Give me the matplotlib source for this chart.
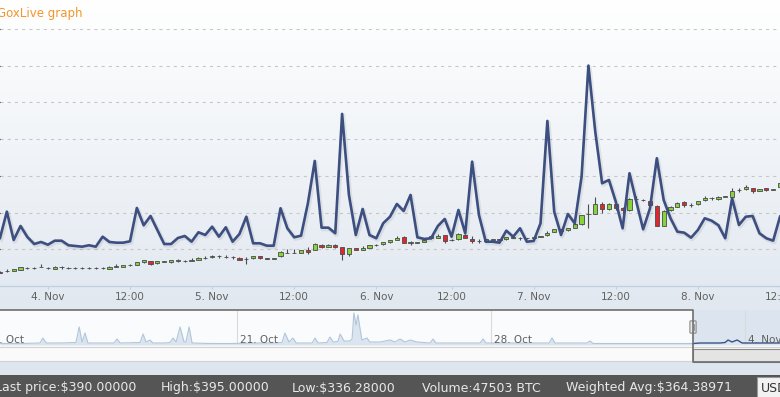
import numpy as np
import matplotlib
matplotlib.use("Agg")
import matplotlib.pyplot as plt
import matplotlib.patheffects as pe
from matplotlib.patches import Rectangle, FancyBboxPatch
from matplotlib.colors import LinearSegmentedColormap

# hourly MtGox candles, 3 Nov 17:00 -> 8 Nov 12:00 (ordinal axis, one hour missing on 6 Nov)
open_ = [219.4, 220.2, 221.0, 222.0, 224.3, 224.6, 225.7, 224.0, 223.0, 225.3,
         224.6, 224.3, 224.8, 224.2, 224.8, 224.2, 223.6, 226.2, 225.8, 228.4,
         228.6, 232.1, 234.0, 230.8, 232.5, 232.4, 234.3, 234.2, 234.4, 235.2,
         237.9, 239.7, 240.3, 239.7, 239.0, 238.6, 236.2, 237.6, 240.5, 237.6,
         236.8, 240.5, 244.8, 245.2, 245.0, 249.6, 248.9, 256.0, 253.0, 256.0,
         252.7, 243.6, 251.8, 249.0, 251.6, 255.4, 256.8, 259.6, 262.8, 266.4,
         258.8, 258.6, 260.0, 265.0, 265.8, 269.1, 262.2, 263.6, 269.0, 264.2,
         260.7, 261.3, 263.2, 264.0, 263.6, 266.0, 264.8, 265.3, 265.5, 266.7,
         268.8, 273.4, 277.4, 275.6, 279.0, 284.1, 297.9, 298.1, 311.7, 304.5,
         311.7, 306.5, 303.5, 318.3, 317.6, 316.2, 309.4, 281.7, 303.3, 307.7,
         314.2, 310.4, 311.3, 316.6, 319.3, 318.3, 321.3, 320.8, 330.6, 331.6,
         333.4, 329.6, 333.0, 331.3, 335.5]
high = [220.0, 222.5, 223.0, 226.0, 226.5, 226.0, 229.5, 225.5, 226.8, 227.8,
        226.5, 226.0, 225.2, 225.3, 225.2, 225.4, 226.8, 230.0, 229.2, 230.6,
        233.0, 236.0, 234.6, 234.4, 234.0, 235.5, 236.5, 236.0, 238.5, 239.0,
        240.4, 242.3, 242.6, 241.6, 241.3, 239.2, 240.0, 241.2, 241.0, 238.0,
        238.0, 247.5, 250.0, 249.8, 249.0, 252.5, 258.2, 256.6, 256.6, 257.0,
        253.4, 252.0, 252.4, 254.4, 256.2, 257.0, 260.2, 262.8, 268.6, 268.0,
        261.5, 259.8, 263.0, 268.2, 270.5, 270.0, 263.6, 271.6, 271.0, 267.5,
        263.4, 264.6, 264.6, 264.4, 267.0, 267.5, 267.2, 265.7, 266.5, 268.1,
        275.5, 277.8, 277.8, 279.4, 285.0, 297.3, 311.7, 321.6, 314.0, 312.5,
        313.0, 307.0, 319.2, 322.0, 318.0, 316.8, 310.0, 303.2, 309.5, 314.5,
        316.0, 312.6, 316.3, 322.0, 321.8, 323.0, 322.5, 334.0, 333.2, 337.3,
        334.0, 332.6, 333.5, 332.5, 341.0]
low = [217.5, 218.5, 220.8, 221.5, 222.5, 223.0, 225.5, 223.5, 222.5, 223.3,
       222.8, 223.0, 223.8, 223.8, 223.7, 223.8, 223.2, 226.0, 225.4, 226.8,
       228.2, 231.6, 228.5, 230.4, 232.2, 232.0, 232.7, 232.5, 234.2, 234.8,
       236.2, 238.3, 238.7, 237.8, 237.3, 235.2, 229.6, 237.2, 237.2, 236.4,
       236.4, 240.0, 244.6, 244.6, 244.5, 243.6, 248.4, 252.4, 252.5, 252.2,
       235.4, 241.3, 248.4, 248.4, 251.2, 255.0, 256.4, 259.2, 262.4, 258.6,
       255.6, 258.2, 259.6, 264.5, 265.4, 258.5, 261.5, 263.0, 265.0, 258.4,
       259.0, 260.8, 262.8, 262.8, 263.2, 265.6, 262.8, 264.3, 265.1, 266.3,
       268.4, 273.0, 274.8, 275.2, 278.6, 283.6, 279.0, 297.6, 299.5, 303.8,
       303.0, 299.5, 301.5, 317.6, 316.4, 309.4, 281.2, 281.2, 302.8, 307.2,
       307.0, 307.6, 310.8, 316.2, 317.4, 317.8, 320.9, 320.3, 328.6, 331.2,
       326.5, 329.2, 330.0, 330.9, 335.0]
close = [218.0, 220.6, 222.5, 225.2, 224.7, 224.4, 226.0, 225.0, 226.0, 225.7,
         224.4, 224.7, 224.2, 224.8, 224.2, 224.9, 226.2, 226.6, 228.6, 228.8,
         232.4, 235.3, 230.6, 233.8, 233.6, 235.0, 234.7, 234.0, 234.8, 238.4,
         238.3, 240.1, 240.7, 239.3, 239.3, 235.8, 236.6, 240.6, 237.7, 236.8,
         237.6, 246.9, 245.2, 244.9, 248.4, 245.8, 257.6, 253.0, 256.0, 253.0,
         243.6, 251.4, 249.0, 251.8, 255.6, 256.4, 259.6, 262.2, 266.0, 259.0,
         259.2, 259.4, 262.6, 267.6, 268.6, 261.7, 263.2, 270.8, 265.4, 261.2,
         261.1, 264.1, 264.0, 263.2, 266.4, 266.6, 265.2, 264.7, 266.1, 267.7,
         272.8, 277.2, 275.2, 278.8, 284.4, 296.7, 298.3, 311.7, 304.5, 311.7,
         305.9, 303.4, 318.1, 318.7, 316.8, 309.9, 281.7, 302.6, 307.3, 313.1,
         310.2, 310.8, 315.7, 320.4, 319.7, 320.7, 322.1, 329.8, 331.0, 334.6,
         330.0, 332.0, 330.4, 332.1, 339.7]
# hourly volume (BTC)
volume = [1308, 2025, 1253, 1635, 1335, 1144, 1199, 1125, 1234, 1234,
          1109, 1090, 1071, 1109, 1071, 1343, 1199, 1180, 1180, 1218,
          2125, 1654, 1907, 1526, 1144, 1144, 1308, 1362, 1207, 1463,
          1390, 1616, 1343, 1599, 1207, 1417, 1888, 1163, 1163, 1098,
          1098, 2117, 1572, 1327, 1371, 2253, 3406, 1589, 1589, 1436,
          4687, 2480, 1390, 2098, 1390, 1300, 1708, 1888, 2234, 2044,
          2480, 1327, 1281, 1300, 1635, 1826, 1343, 2071, 1436, 3387,
          1935, 1207, 1207, 1180, 1507, 1343, 1572, 1207, 1226, 1708,
          4496, 2025, 1390, 1962, 1708, 2978, 6003, 4204, 2798, 2888,
          2297, 1572, 3071, 2297, 1545, 2117, 3480, 2343, 1845, 1480,
          1452, 1316, 1526, 1845, 1779, 1654, 1300, 2390, 1662, 1888,
          1907, 1436, 1300, 1234, 1888]

tick_pos = [7, 19, 31, 43, 55, 66, 78, 90, 102, 114]
tick_lbl = ['4. Nov', '12:00', '5. Nov', '12:00', '6. Nov', '12:00',
            '7. Nov', '12:00', '8. Nov', '12:00']

# navigator: days since 14 Oct, relative volume
nav_day = [0.47, 1.02, 1.57, 1.65, 1.74, 2.12, 2.56, 2.65, 2.73, 2.81, 2.89, 3.22,
           3.61, 3.69, 3.78, 4.33, 4.41, 4.49, 4.60, 4.68, 5.02, 5.15, 5.24, 5.32,
           5.43, 5.54, 5.59, 5.68, 5.76, 6.26, 6.81, 7.63, 8.05, 8.24, 8.32, 8.43,
           8.54, 8.63, 9.07, 9.15, 9.23, 9.48, 9.56, 9.65, 9.78, 9.84, 9.95, 10.11,
           10.17, 10.22, 10.28, 10.33, 10.44, 10.58, 10.66, 10.94, 11.22, 11.35,
           11.49, 11.63, 11.77, 11.96, 12.32, 12.40, 12.48, 13.14, 13.70, 13.78,
           13.86, 14.80, 15.60, 15.68, 15.76, 16.64, 16.73, 16.81, 17.55, 18.38,
           19.57, 19.76, 20.31, 20.45, 20.53, 20.64, 20.78, 20.92, 21.41, 21.96]
nav_vol = [1.5, 1.5, 2, 7, 2, 2, 2.5, 18, 3, 12, 2, 2,
           2, 6, 2, 2.5, 11, 3, 5, 2, 2, 2.5, 7, 3,
           18, 3, 3, 18, 2, 1.5, 1.5, 2, 2, 2.5, 12, 3,
           7, 2, 2, 7, 2, 2.5, 8, 3, 3.5, 11, 4, 4,
           6, 32, 20, 30, 5, 7, 3, 3, 5, 3,
           6, 3, 5, 3, 2, 6, 2, 2, 2, 6,
           2, 2, 2, 7, 2, 2, 4, 1.5, 1.5, 1.5,
           1.5, 2, 2, 2.5, 5, 3, 5, 2, 2, 2]
nav_ticks = [0, 7, 14, 21]
nav_lbl = ['14. Oct', '21. Oct', '28. Oct', '4. Nov']
nav_sel_start = 19.57

stat_lbl = ['Last price:$390.00000', 'High:$395.00000', 'Low:$336.28000',
            'Volume:47503 BTC', 'Weighted Avg:$364.38971']
stat_x = [-5, 161, 292, 422, 566]

W, H = 780, 397
plt.rcParams['font.family'] = 'DejaVu Sans'
plt.rcParams['lines.scale_dashes'] = False


def rect(x0, y0, x1, y1):
    return [x0 / W, 1 - y1 / H, (x1 - x0) / W, (y1 - y0) / H]


fig = plt.figure(figsize=(W / 100, H / 100), dpi=100)

# background
bg = fig.add_axes([0, 0, 1, 1])
cmap = LinearSegmentedColormap.from_list('bg', ['#ffffff', '#e1e8f0'])
bg.imshow(np.linspace(0, 1, 256)[:, None], extent=(0, W, 310, 0), cmap=cmap, aspect='auto')
bg.add_patch(Rectangle((0, 345), W, 17, fc='#fafafa', ec='none'))
bg.add_patch(Rectangle((0, 362), W, 13, fc='#dde6ef', ec='none'))
bg.add_patch(Rectangle((0, 375), W, 22, fc='#555555', ec='none'))
bg.set_xlim(0, W)
bg.set_ylim(H, 0)
bg.axis('off')
fig.text(-3 / W, 1 - 14 / H, 'GoxLive graph', color='#f4952a', fontsize=8.5, va='center')

# main chart: candles on price axis
x = np.arange(len(close))
o = np.array(open_)
c = np.array(close)
ax = fig.add_axes(rect(0, 29, W, 286))
ax.set_facecolor('none')
ax.set_yticks(np.arange(250, 551, 50))
ax.set_xticks(tick_pos)
ax.set_xticklabels(tick_lbl)
ax.set_xlim(0, 114)
ax.set_ylim(200, 550)
ax.grid(axis='y', color='#c6c6c6', lw=0.8, linestyle=(0, (2.2, 3.0)))
ax.tick_params(axis='y', left=False, labelleft=False)
for s in ['top', 'left', 'right']:
    ax.spines[s].set_visible(False)
ax.spines['bottom'].set_color('#c0d0e0')
ax.spines['bottom'].set_linewidth(1)
ax.tick_params(axis='x', length=2.5, width=0.8, color='#c0d0e0', labelcolor='#606060',
               labelsize=7.5, pad=2)
ax.set_axisbelow(True)

up = c >= o
colors = np.where(up, '#86d33a', '#e3262b')
ax.vlines(x, low, high, color='#4d4d4d', lw=0.8, zorder=2)
ax.bar(x, np.maximum(np.abs(c - o), 0.5), bottom=np.minimum(o, c), width=0.62,
       color=colors, edgecolor='#4a4a4a', linewidth=0.6, zorder=3)

# volume line
ax2 = ax.twinx()
ax2.set_ylim(0, 7000)
ax2.set_xlim(0, 114)
ax2.axis('off')
ax2.plot(x, volume, color='#3d4f80', lw=1.9, solid_joinstyle='round',
         path_effects=[pe.SimpleLineShadow(offset=(0.8, -1.0), shadow_color='#000000',
                                           alpha=0.07, linewidth=3.2), pe.Normal()])

# navigator
nav = fig.add_axes(rect(0, 310, W, 345))
nav.set_facecolor('#f9fbfd')
nav.set_xticks(nav_ticks)
nav.set_xlim(0.468, 21.962)
nav.set_ylim(0, 35)
nav.axvspan(nav_sel_start, 21.962, color='#dce5ef', lw=0, zorder=0)
nd = np.array(nav_day)
nv = np.array(nav_vol)
nav.fill_between(nd, nv, color='#dbe5f0', lw=0, zorder=1)
left = nd <= nav_sel_start
right = nd >= nav_sel_start
nav.plot(nd[left], nv[left], color='#b3c5da', lw=0.8, zorder=2)
nav.plot(nd[right], nv[right], color='#3a5489', lw=1.0, zorder=2)
nav.grid(axis='x', color='#dadada', lw=0.8)
nav.tick_params(length=0, labelbottom=False, labelleft=False)
for s in nav.spines.values():
    s.set_visible(False)
for d, lbl in zip(nav_ticks, nav_lbl):
    nav.text(d + 0.08, 5, lbl, ha='left', va='center', fontsize=7.5, color='#606060',
             zorder=3, clip_on=False)
nav.set_xlim(0.468, 21.962)

# overlay: scrollbar, outline, handle, stats bar
ov = fig.add_axes([0, 0, 1, 1])
ov.set_xlim(0, W)
ov.set_ylim(H, 0)
ov.axis('off')
ov.patch.set_visible(False)
ov.plot([0, W], [347, 347], color='#d2d2d2', lw=0.8)
ov.plot([0, W], [361, 361], color='#d2d2d2', lw=0.8)
ov.add_patch(Rectangle((693, 349), 90, 13, fc='#e4e4e4', ec='#8a8a8a', lw=0.8))
ov.plot([0, 693, 693, W], [310, 310, 362, 362], color='#6e6e6e', lw=1.2)
ov.add_patch(FancyBboxPatch((690.5, 321.5), 5, 11, boxstyle='round,pad=0.6',
                            fc='#ebebeb', ec='#8a8a8a', lw=0.8))
ov.plot([692.3, 692.3], [324, 330], color='#8a8a8a', lw=0.6)
ov.plot([694.0, 694.0], [324, 330], color='#8a8a8a', lw=0.6)

for lbl, px in zip(stat_lbl, stat_x):
    ov.text(px, 388, lbl, color='#e8e8e8', fontsize=9, va='center', ha='left')
ov.add_patch(Rectangle((757, 377), 30, 22, fc='#f2f2f2', ec='#999999', lw=0.8))
ov.text(761, 388, 'USD', color='#333333', fontsize=9, va='center', ha='left')

fig.savefig('out.png', dpi=100)
